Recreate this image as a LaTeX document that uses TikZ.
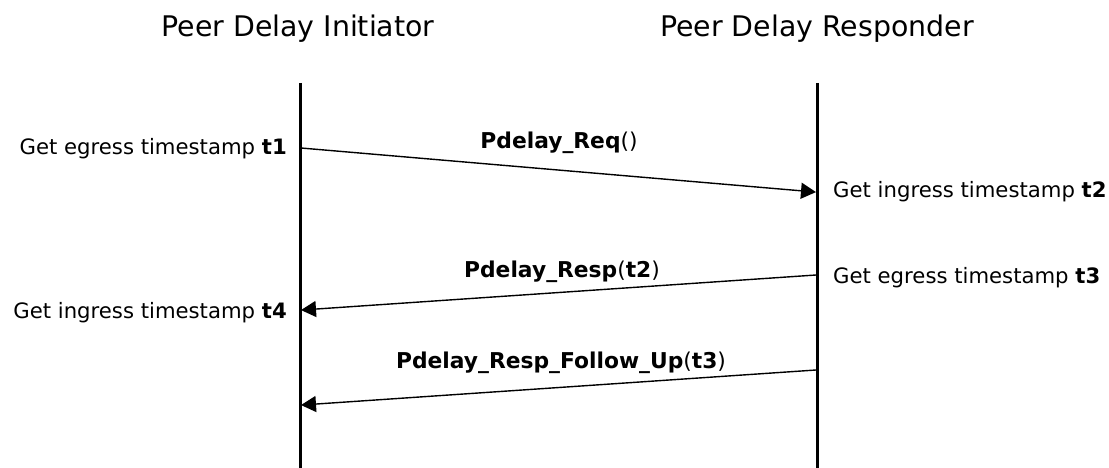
\documentclass[tikz,border=0pt]{standalone}
\usepackage{fontspec}
\setmainfont{DejaVu Sans}
\usetikzlibrary{arrows.meta}
\begin{document}
\begin{tikzpicture}[x=1pt,y=-1pt,
  header/.style={font=\fontsize{28.4}{31}\selectfont, inner sep=0pt, anchor=base},
  lbl/.style={font=\fontsize{21.2}{24}\selectfont, inner sep=0pt},
  msglbl/.style={font=\fontsize{21.8}{24}\selectfont, inner sep=0pt, anchor=base},
  lifeline/.style={line width=3pt},
  msg/.style={line width=1.4pt, -{Triangle[length=15pt,width=16pt]}, shorten >=-1pt}]
\useasboundingbox (0,0) rectangle (1109,468);
% headers
\node[header] (hI) at (298,37) {Peer Delay Initiator};
\node[header] (hR) at (817,37) {Peer Delay Responder};
% lifelines
\coordinate (Itop) at (300,83);
\coordinate (Ibot) at (300,470);
\coordinate (Rtop) at (817,83);
\coordinate (Rbot) at (817,470);
\draw[lifeline] (Itop) -- (Ibot);
\draw[lifeline] (Rtop) -- (Rbot);
% message endpoints
\coordinate (m1s) at (301,148);
\coordinate (m1e) at (815,192);
\coordinate (m2s) at (816,275);
\coordinate (m2e) at (302,310);
\coordinate (m3s) at (816,370);
\coordinate (m3e) at (302,405);
\draw[msg] (m1s) -- (m1e);
\draw[msg] (m2s) -- (m2e);
\draw[msg] (m3s) -- (m3e);
% message labels
\node[msglbl] (l1) at (559,149) {\textbf{Pdelay\_Req}()};
\node[msglbl] (l2) at (562,277) {\textbf{Pdelay\_Resp}(\textbf{t2})};
\node[msglbl] (l3) at (561,368) {\textbf{Pdelay\_Resp\_Follow\_Up}(\textbf{t3})};
% timestamp labels
\node[lbl, anchor=base east] (t1) at (287,155) {Get egress timestamp \textbf{t1}};
\node[lbl, anchor=base west] (t2) at (833,197) {Get ingress timestamp \textbf{t2}};
\node[lbl, anchor=base west] (t3) at (833,283) {Get egress timestamp \textbf{t3}};
\node[lbl, anchor=base east] (t4) at (287,318) {Get ingress timestamp \textbf{t4}};
\end{tikzpicture}
\end{document}
